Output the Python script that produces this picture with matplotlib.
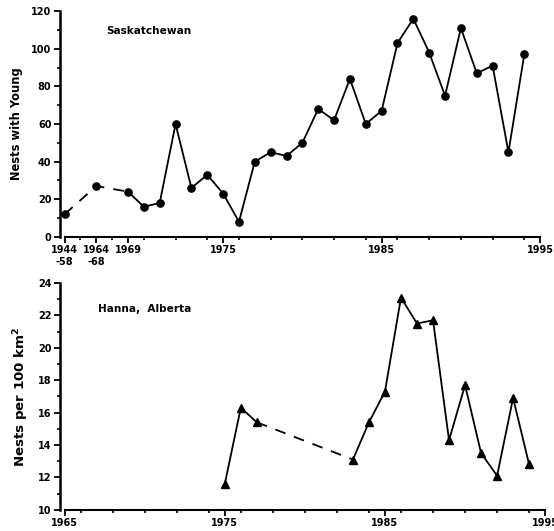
import numpy as np
import matplotlib.pyplot as plt
from matplotlib.ticker import MultipleLocator

plt.rcParams['font.family'] = ['DejaVu Sans']
plt.rcParams['font.weight'] = 'bold'

# Saskatchewan: 1944-58 and 1964-68 pooled, plotted at 1965 and 1967
sask_years = [1965, 1967] + list(range(1969, 1995))
sask_nests = [12, 27, 24, 16, 18, 60, 26, 33, 23, 8, 40, 45, 43, 50, 68, 62,
              84, 60, 67, 103, 116, 98, 75, 111, 87, 91, 45, 97]
sask_ticks = [1965, 1967, 1969, 1975, 1985, 1995]
sask_labels = ['1944\n-58', '1964\n-68', '1969', '1975', '1985', '1995']

# Hanna, Alberta
hanna_years = [1975, 1976, 1977, 1983, 1984, 1985, 1986, 1987, 1988, 1989,
               1990, 1991, 1992, 1993, 1994]
hanna_density = [11.6, 16.3, 15.4, 13.1, 15.4, 17.3, 23.1, 21.5, 21.7, 14.3,
                 17.7, 13.5, 12.1, 16.9, 12.8]

fig = plt.figure(figsize=(5.54, 5.31), dpi=100)
ax1 = fig.add_axes([0.108, 0.554, 0.867, 0.425])
ax2 = fig.add_axes([0.108, 0.040, 0.876, 0.427])

lw = 1.3
# top panel: dashed across the pooled periods, solid for annual counts
ax1.plot(sask_years[:3], sask_nests[:3], 'k--', lw=lw, dashes=(6, 5))
ax1.plot(sask_years[2:], sask_nests[2:], 'k-', lw=lw)
ax1.plot(sask_years, sask_nests, 'ko', ms=5.2, ls='none')
ax1.set_xlim(1964.7, 1995)
ax1.set_ylim(0, 120)
ax1.set_xticks(sask_ticks)
ax1.set_xticklabels(sask_labels)
ax1.xaxis.set_minor_locator(MultipleLocator(2))
ax1.yaxis.set_major_locator(MultipleLocator(20))
ax1.yaxis.set_minor_locator(MultipleLocator(10))
ax1.set_ylabel('Nests with Young', fontsize=8.3, fontweight='bold', labelpad=6)
ax1.text(1967.6, 108, 'Saskatchewan', fontsize=7.6, fontweight='bold')

# bottom panel: gap 1978-82 drawn dashed
ax2.plot(hanna_years[:3], hanna_density[:3], 'k-', lw=lw)
ax2.plot(hanna_years[2:4], hanna_density[2:4], 'k--', lw=lw, dashes=(6, 5))
ax2.plot(hanna_years[3:], hanna_density[3:], 'k-', lw=lw)
ax2.plot(hanna_years, hanna_density, 'k^', ms=5.8, ls='none')
ax2.set_xlim(1964.7, 1995)
ax2.set_ylim(10, 24)
ax2.set_xticks([1965, 1975, 1985, 1995])
ax2.xaxis.set_minor_locator(MultipleLocator(2))
ax2.yaxis.set_major_locator(MultipleLocator(2))
ax2.yaxis.set_minor_locator(MultipleLocator(1))
ax2.set_ylabel(r'Nests per 100 km$^{\mathbf{2}}$', fontsize=9.6, fontweight='bold', labelpad=5)
ax2.text(1967.1, 22.2, 'Hanna,  Alberta', fontsize=7.6, fontweight='bold')

for ax in (ax1, ax2):
    for s in ('top', 'right'):
        ax.spines[s].set_visible(False)
    ax.spines['left'].set_linewidth(1.8)
    ax.spines['bottom'].set_linewidth(1.5)
    ax.spines['bottom'].set_bounds(1965, 1995)
    ax.tick_params(which='major', length=4, width=1.3, labelsize=7, pad=2)
    ax.tick_params(which='minor', length=2, width=1.2)
    for lab in ax.get_xticklabels() + ax.get_yticklabels():
        lab.set_fontweight('bold')

fig.savefig('out.png', dpi=100)
